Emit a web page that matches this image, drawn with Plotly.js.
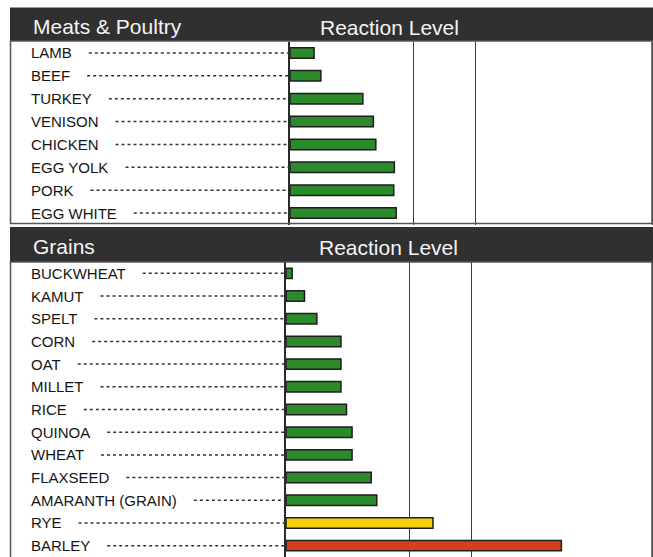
<!DOCTYPE html>
<html>
<head>
<meta charset="utf-8">
<script src="https://cdn.plot.ly/plotly-3.0.1.min.js"></script>
<style>html,body{margin:0;padding:0;background:#fff;}#chart{width:653px;height:557px;}</style>
</head>
<body>
<div id="chart"></div>
<script>
// ---- data ----
const meatTitle = 'Meats & Poultry';
const grainTitle = 'Grains';
const levelTitle = 'Reaction Level';
const meatCats = ['LAMB','BEEF','TURKEY','VENISON','CHICKEN','EGG YOLK','PORK','EGG WHITE'];
const meatVals = [1.95, 2.5, 5.9, 6.75, 6.95, 8.45, 8.4, 8.6];
const meatLevels = ['low','low','low','low','low','low','low','low'];
const grainCats = ['BUCKWHEAT','KAMUT','SPELT','CORN','OAT','MILLET','RICE','QUINOA','WHEAT','FLAXSEED','AMARANTH (GRAIN)','RYE','BARLEY'];
const grainVals = [0.5, 1.5, 2.5, 4.45, 4.45, 4.45, 4.9, 5.35, 5.35, 6.9, 7.35, 11.9, 22.3];
const grainLevels = ['low','low','low','low','low','low','low','low','low','low','low','moderate','high'];
const thresholds = [10, 15];

(function () {
// ---- styling ----
const W = 653, H = 557;
const levelColor = {low:'#2b8a2b', moderate:'#f2d20e', high:'#d4401e'};
const FONT = '"Liberation Sans", Arial, Helvetica, sans-serif';
const px = v => v / W;
const py = v => 1 - v / H;
const pxPerUnit = 12.35;

const topP = {x0: 290, x1: 652, y0: 41.5, y1: 224.5};
const botP = {x0: 286, x1: 652, y0: 262, y1: 557};

function barTrace(cats, vals, levels, xa, ya) {
  return {
    type: 'bar', orientation: 'h', x: vals, y: cats, xaxis: xa, yaxis: ya,
    width: 0.46,
    marker: {color: levels.map(l => levelColor[l]), line: {color: '#1e1e1e', width: 1.5}},
    hoverinfo: 'x+y', showlegend: false
  };
}

const data = [
  barTrace(meatCats, meatVals, meatLevels, 'x', 'y'),
  barTrace(grainCats, grainVals, grainLevels, 'x2', 'y2')
];

function xAxis(p) {
  return {
    domain: [px(p.x0), px(p.x1)], range: [0, (p.x1 - p.x0) / pxPerUnit],
    tickvals: thresholds, showticklabels: false, ticks: '',
    showgrid: true, gridcolor: '#3a3a3a', gridwidth: 1.5, zeroline: false,
    showline: false, fixedrange: true
  };
}
function yAxis(p, n, anchor) {
  return {
    domain: [py(p.y1), py(p.y0)], type: 'category', range: [n - 0.5, -0.5],
    showticklabels: false, ticks: '', showgrid: false, zeroline: false,
    showline: true, mirror: true, linecolor: '#2a2a2a', linewidth: 1.6,
    anchor: anchor, fixedrange: true
  };
}

// measure label widths for leader lines
const cv = document.createElement('canvas').getContext('2d');
cv.font = '15px "Liberation Sans", Arial, sans-serif';

const labelX = 29;
const shapes = [];
const annotations = [];

// header bands and boxes
const headers = [
  {y0: 7.5, y1: 41, title: meatTitle, ty: 26, ry: 27.5, rx: 318},
  {y0: 227, y1: 262, title: grainTitle, ty: 246.5, ry: 248, rx: 316.5}
];
headers.forEach(h => {
  shapes.push({type: 'rect', xref: 'paper', yref: 'paper', x0: px(10), x1: px(653), y0: py(h.y1), y1: py(h.y0),
    fillcolor: '#303030', line: {width: 0}});
  annotations.push({xref: 'paper', yref: 'paper', x: px(31), y: py(h.ty), xanchor: 'left', yanchor: 'middle',
    text: h.title, showarrow: false, font: {family: FONT, size: 21, color: '#f4f4f4'}});
  annotations.push({xref: 'paper', yref: 'paper', x: px(h.rx), y: py(h.ry), xanchor: 'left', yanchor: 'middle',
    text: levelTitle, showarrow: false, font: {family: FONT, size: 21, color: '#f4f4f4'}});
});
// white boxes borders
shapes.push({type: 'rect', xref: 'paper', yref: 'paper', x0: px(10.5), x1: px(652), y0: py(223.5), y1: py(41),
  fillcolor: 'rgba(0,0,0,0)', line: {color: '#555', width: 1.5}});
shapes.push({type: 'rect', xref: 'paper', yref: 'paper', x0: px(10.5), x1: px(652), y0: py(560), y1: py(262),
  fillcolor: 'rgba(0,0,0,0)', line: {color: '#555', width: 1.5}});

function addLabels(cats, yref, axisX) {
  cats.forEach((c, i) => {
    annotations.push({xref: 'paper', yref: yref, x: px(labelX), y: i, xanchor: 'left', yanchor: 'middle',
      text: c, showarrow: false, font: {family: FONT, size: 15, color: '#151515'}});
    const w = cv.measureText(c).width;
    shapes.push({type: 'line', xref: 'paper', yref: yref, x0: px(labelX + w + 19), x1: px(axisX - 1), y0: i, y1: i,
      line: {color: '#333', width: 1.5, dash: '3px,3px'}});
  });
}
addLabels(meatCats, 'y', topP.x0);
addLabels(grainCats, 'y2', botP.x0);

const layout = {
  width: W, height: H,
  margin: {l: 0, r: 0, t: 0, b: 0, pad: 0},
  paper_bgcolor: '#ffffff', plot_bgcolor: 'rgba(0,0,0,0)',
  xaxis: xAxis(topP), yaxis: yAxis(topP, meatCats.length, 'x'),
  xaxis2: Object.assign(xAxis(botP), {anchor: 'y2'}), yaxis2: yAxis(botP, grainCats.length, 'x2'),
  bargap: 0.5,
  shapes: shapes, annotations: annotations,
  showlegend: false
};

Plotly.newPlot('chart', data, layout, {displayModeBar: false, staticPlot: true});
})();
</script>
</body>
</html>
